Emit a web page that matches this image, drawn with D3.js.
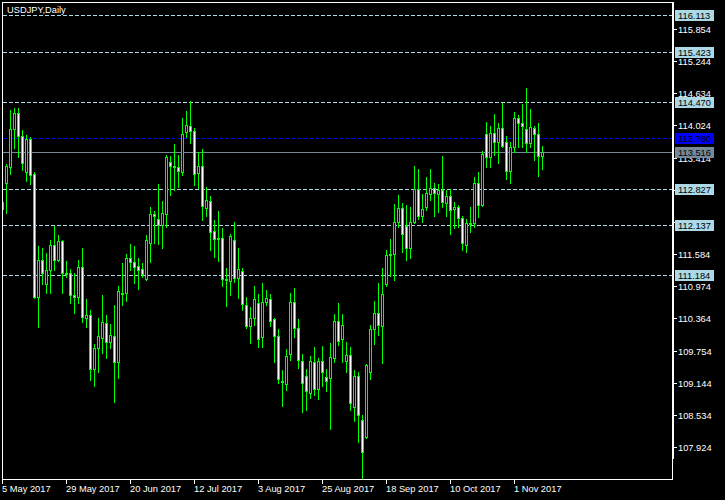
<!DOCTYPE html>
<html><head><meta charset="utf-8">
<script src="https://cdn.jsdelivr.net/npm/d3@7"></script>
<style>html,body{margin:0;padding:0;background:#000;overflow:hidden}</style>
</head><body>
<svg id="c" width="725" height="500"></svg>
<script>
const chartTitle = "USDJPY,Daily";
const openP = [
112.439,112.932,113.236,113.957,114.260,113.824,113.141,113.767,113.103,110.769,
111.471,111.016,111.282,111.756,111.471,111.832,111.225,111.225,110.807,110.769,
111.339,110.371,110.428,109.403,109.802,109.992,110.276,109.916,110.030,109.536,
110.826,110.845,111.509,111.433,111.358,111.301,111.111,111.794,112.344,112.249,
112.135,112.344,113.331,113.255,113.236,113.141,113.900,114.013,113.919,113.122,
113.255,112.458,112.591,112.021,111.889,111.889,111.111,111.073,111.851,111.130,
111.263,110.617,110.219,110.371,110.655,110.011,110.674,110.731,110.352,110.030,
109.176,109.119,109.688,110.674,110.181,109.555,109.271,108.948,109.536,109.024,
109.555,109.252,109.233,109.612,110.314,109.973,109.555,109.669,108.682,109.271,
108.436,108.113,109.346,110.162,110.466,110.219,111.016,111.566,111.585,112.192,
112.458,112.116,111.699,112.192,112.818,112.306,112.477,112.723,112.837,112.723,
112.799,112.553,112.686,112.439,112.477,112.268,111.756,112.173,112.173,112.932,
112.515,113.862,113.425,113.881,113.710,113.976,113.710,113.160,113.615,114.165,
114.070,113.957,113.691,113.976,113.862,113.444];
const highP = [
112.610,113.293,114.317,114.355,114.355,113.938,113.843,113.805,113.141,111.737,
111.699,111.604,111.851,112.116,111.946,111.851,111.452,111.301,111.225,111.471,
111.699,110.731,110.523,109.878,110.371,110.807,110.428,110.257,110.617,110.978,
111.414,111.585,111.775,111.737,111.509,111.414,111.946,112.477,112.401,112.913,
112.591,113.463,113.444,113.672,113.463,114.165,114.298,114.488,113.976,113.520,
113.577,112.856,112.686,112.230,112.401,112.078,111.320,111.965,112.192,111.699,
111.320,110.769,110.580,110.978,110.826,111.035,110.902,110.826,110.371,110.162,
109.384,109.783,110.845,110.940,110.352,109.688,109.403,109.650,109.821,109.612,
109.840,109.403,109.897,110.447,110.655,110.447,109.916,109.821,109.384,109.346,
108.531,109.498,110.238,110.693,111.035,111.320,111.661,111.870,112.534,112.704,
112.553,112.515,112.477,113.255,113.198,112.723,113.046,113.198,112.932,112.913,
113.444,112.799,112.818,112.572,112.515,112.306,112.249,112.477,113.046,113.141,
113.539,114.089,114.013,114.241,114.070,114.450,113.824,113.710,114.279,114.222,
114.431,114.734,114.336,114.013,114.070,113.634];
const lowP = [
112.401,112.363,113.103,113.596,113.425,113.179,112.970,112.913,110.750,110.200,
111.016,110.845,110.845,111.282,111.452,110.845,111.149,110.655,110.466,110.655,
110.295,110.200,109.195,109.081,109.346,109.707,109.612,109.802,108.777,109.233,
110.617,110.693,111.282,111.035,110.921,111.149,111.092,111.433,111.794,111.775,
111.699,112.097,112.704,112.799,112.856,113.084,113.805,113.691,112.894,112.837,
112.230,112.306,111.661,111.528,111.452,110.978,110.598,110.807,111.054,110.750,
110.523,110.181,109.897,110.238,109.821,109.821,110.617,110.219,109.536,109.138,
108.701,109.005,109.574,110.011,109.422,108.588,108.626,108.853,108.910,108.834,
109.081,108.986,108.265,109.536,109.859,109.536,109.346,108.626,108.417,108.018,
107.336,108.094,109.214,109.878,110.049,109.517,110.978,111.168,111.092,112.097,
111.623,111.471,111.509,112.173,112.249,112.192,112.420,112.610,112.306,112.382,
112.477,112.306,111.964,112.078,112.097,111.661,111.623,112.002,112.097,112.287,
112.496,113.236,113.236,113.463,113.312,113.615,113.008,112.932,113.520,113.615,
113.615,113.520,113.615,113.369,113.065,113.198];
const closeP = [
112.572,113.255,113.957,114.260,113.824,113.312,113.767,113.084,110.769,111.471,
111.225,111.282,111.756,111.471,111.832,111.225,111.206,110.807,110.769,111.339,
110.390,110.428,109.403,109.802,110.030,110.295,109.916,110.049,109.536,110.883,
110.845,111.509,111.433,111.339,111.282,111.206,111.851,112.344,112.306,112.135,
112.363,113.425,113.255,113.236,113.160,113.862,114.032,113.919,113.103,113.255,
112.496,112.610,112.002,111.870,111.870,111.111,111.092,111.927,111.130,111.301,
110.636,110.219,110.371,110.731,109.973,110.674,110.750,110.314,110.030,109.214,
109.157,109.650,110.674,110.181,109.574,109.138,108.986,109.555,109.024,109.555,
109.346,109.176,109.631,110.314,109.935,110.238,109.669,108.758,109.271,108.531,
107.829,109.479,110.162,110.466,110.238,110.826,111.566,111.585,112.192,112.458,
111.964,111.699,112.192,112.818,112.306,112.439,112.742,112.837,112.742,112.799,
112.572,112.686,112.420,112.477,112.268,111.794,112.173,112.154,112.932,112.515,
113.482,113.425,113.881,113.710,113.976,113.634,113.160,113.615,114.165,114.070,
114.013,113.691,113.995,113.862,113.444,113.516];
const xTickBars = [0,16,32,48,64,80,96,112,128];
const xTickLabels = ["5 May 2017","29 May 2017","20 Jun 2017","12 Jul 2017","3 Aug 2017","25 Aug 2017","18 Sep 2017","10 Oct 2017","1 Nov 2017"];
const yTickValues = [115.854,115.244,114.634,114.024,113.414,112.804,112.194,111.584,110.974,110.364,109.754,109.144,108.534,107.924];
const dashedLevels = [116.113,115.423,114.470,112.827,112.137,111.184];
const blueLevel = 113.780;
const bidLevel = 113.516;

const FONT = "'Liberation Sans', Arial, sans-serif";
const FS = "9.3px";
const L = 2, R = 672, T = 2, B = 479;
const svg = d3.select("#c");
svg.append("rect").attr("width",725).attr("height",500).attr("fill","#000");

const n = openP.length;
const data = d3.range(n).map(i => ({i, o:openP[i], h:highP[i], l:lowP[i], c:closeP[i]}));
const x = d3.scaleLinear().domain([0, n-1]).range([L+0.5, L+0.5+4*(n-1)]);
const y = d3.scaleLinear().domain([107.317, 116.366]).range([B, T]);

svg.append("defs").append("clipPath").attr("id","clip")
  .append("rect").attr("x",L+1).attr("y",T+1).attr("width",R-L-1).attr("height",B-T-1);
const plot = svg.append("g").attr("clip-path","url(#clip)");

const ry = v => Math.round(y(v));
// horizontal levels
plot.selectAll("line.lvl").data(dashedLevels).join("line")
  .attr("x1",L+1).attr("x2",R).attr("y1",d=>ry(d)+0.5).attr("y2",d=>ry(d)+0.5)
  .attr("stroke","#add8e6").attr("stroke-dasharray","4,2");
plot.append("line").attr("x1",L+1).attr("x2",R).attr("y1",ry(blueLevel)+0.5).attr("y2",ry(blueLevel)+0.5)
  .attr("stroke","#0000ff").attr("stroke-dasharray","4,2");
plot.append("line").attr("x1",L+1).attr("x2",R).attr("y1",ry(bidLevel)+0.5).attr("y2",ry(bidLevel)+0.5)
  .attr("stroke","#778899");

// candles
const cx = d => Math.floor(x(d.i)) + 0.5;
plot.selectAll("line.wick").data(data).join("line")
  .attr("x1",cx).attr("x2",cx)
  .attr("y1",d=>ry(d.h)).attr("y2",d=>ry(d.l)+1)
  .attr("stroke","#00ff00");
plot.selectAll("rect.body").data(data.filter(d=>Math.abs(ry(d.o)-ry(d.c))>=1)).join("rect")
  .attr("x",d=>cx(d)-1).attr("width",2)
  .attr("y",d=>Math.min(ry(d.o),ry(d.c))+0.5)
  .attr("height",d=>Math.abs(ry(d.o)-ry(d.c)))
  .attr("fill",d=>d.c<d.o?"#ffffff":"#000000")
  .attr("stroke","#00ff00");
plot.selectAll("line.doji").data(data.filter(d=>Math.abs(ry(d.o)-ry(d.c))<1)).join("line")
  .attr("x1",d=>cx(d)-1.5).attr("x2",d=>cx(d)+1.5)
  .attr("y1",d=>ry(d.c)+0.5).attr("y2",d=>ry(d.c)+0.5)
  .attr("stroke","#00ff00");

// frame
svg.append("line").attr("x1",L+0.5).attr("x2",L+0.5).attr("y1",T).attr("y2",B+1).attr("stroke","#fff");
svg.append("line").attr("x1",L).attr("x2",R+2).attr("y1",T+0.5).attr("y2",T+0.5).attr("stroke","#fff");
svg.append("line").attr("x1",L).attr("x2",R+1).attr("y1",B+0.5).attr("y2",B+0.5).attr("stroke","#fff");
svg.append("line").attr("x1",R+1).attr("x2",R+1).attr("y1",T).attr("y2",B-20).attr("stroke","#fff").attr("stroke-width",2);
svg.append("line").attr("x1",R+0.5).attr("x2",R+0.5).attr("y1",T).attr("y2",B+1).attr("stroke","#fff");

// title
svg.append("text").attr("x",7).attr("y",13).attr("fill","#fff")
  .attr("font-family",FONT).attr("font-size",FS).text(chartTitle);

// y axis ticks
const yg = svg.append("g");
yg.selectAll("line").data(yTickValues).join("line")
  .attr("x1",R+1).attr("x2",R+5).attr("y1",d=>ry(d)+0.5).attr("y2",d=>ry(d)+0.5).attr("stroke","#fff");
yg.selectAll("text").data(yTickValues).join("text")
  .attr("x",R+6).attr("y",d=>ry(d)+4).attr("fill","#fff")
  .attr("font-family",FONT).attr("font-size",FS).text(d=>d.toFixed(3));

// level labels
const labels = dashedLevels.map(v=>({v, bg:"#add8e6"}))
  .concat([{v:blueLevel, bg:"#0000ff"},{v:bidLevel, bg:"#778899"}]);
const lg = svg.append("g");
lg.selectAll("rect").data(labels).join("rect")
  .attr("x",R+3).attr("y",d=>ry(d.v)-5).attr("width",39).attr("height",11).attr("fill",d=>d.bg);
lg.selectAll("text").data(labels).join("text")
  .attr("x",R+6).attr("y",d=>ry(d.v)+4).attr("fill","#000")
  .attr("font-family",FONT).attr("font-size",FS).text(d=>d.v.toFixed(3));

// x axis ticks
const xg = svg.append("g");
xg.selectAll("line").data(xTickBars).join("line")
  .attr("x1",d=>Math.floor(x(d))+0.5).attr("x2",d=>Math.floor(x(d))+0.5)
  .attr("y1",B).attr("y2",B+5).attr("stroke","#fff");
xg.selectAll("text").data(xTickBars).join("text")
  .attr("x",d=>Math.floor(x(d))).attr("y",B+13).attr("fill","#fff")
  .attr("font-family",FONT).attr("font-size",FS).text((d,i)=>xTickLabels[i]);
</script>
</body></html>
